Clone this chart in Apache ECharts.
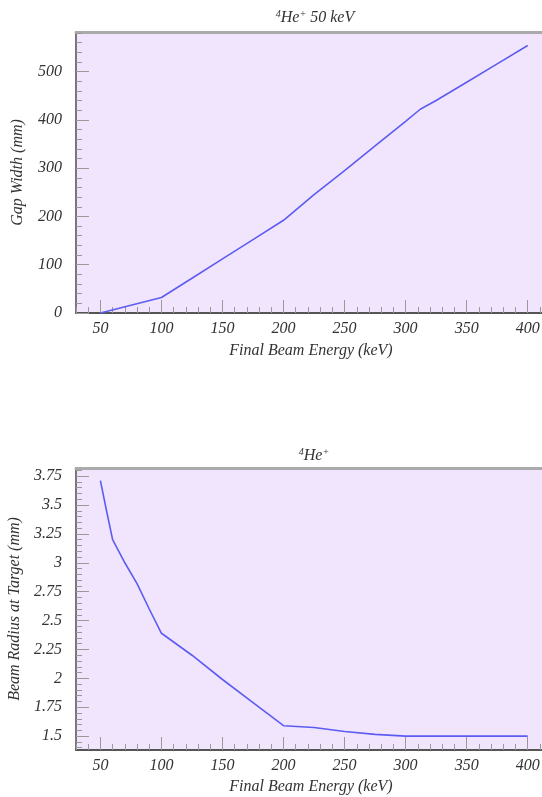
<!DOCTYPE html>
<html><head><meta charset="utf-8">
<style>html,body{margin:0;padding:0;background:#fff}#c{width:542px;height:797px}</style>
<script src="https://cdn.jsdelivr.net/npm/echarts@6/dist/echarts.min.js"></script>
</head><body><div id="c"></div>
<script>
// ---- data ----
const energyTicks = [50, 100, 150, 200, 250, 300, 350, 400];
const gapTicks = [0, 100, 200, 300, 400, 500];
const radiusTicks = [1.5, 1.75, 2, 2.25, 2.5, 2.75, 3, 3.25, 3.5, 3.75];
const gapEnergy = [50, 100, 125, 150, 175, 200, 225, 250, 275, 300, 312, 325, 350, 375, 400];
const gapWidth = [0, 32, 72, 112, 152, 192, 245, 295, 346, 397, 422, 440, 478, 516, 554];
const radiusEnergy = [50, 55, 60, 70, 80, 90, 100, 125, 150, 175, 200, 225, 250, 275, 300, 350, 400];
const beamRadius = [3.71, 3.45, 3.2, 3.0, 2.82, 2.6, 2.39, 2.2, 1.99, 1.79, 1.59, 1.575, 1.54, 1.515, 1.5, 1.5, 1.5];

function range(a, b, s, dec) { const r = []; for (let v = a; v <= b + 1e-9; v += s) r.push(+v.toFixed(dec)); return r; }
const energyMinor = range(30, 410, 10, 0);
const gapMinor = range(0, 580, 20, 0);
const radiusMinor = range(1.40, 3.80, 0.05, 2);

const FONT = { fontFamily: 'Liberation Serif', fontStyle: 'italic', fontWeight: 'normal', color: '#333', fontSize: 16 };
const tickColor = '#999';

function xAxes(gi, gap) {
  return [
    { gridIndex: gi, type: 'value', min: 30, max: 415, position: 'bottom',
      axisLine: { show: true, onZero: false, lineStyle: { color: '#555', width: 2 } },
      axisTick: { show: true, inside: true, length: 13, customValues: energyTicks, lineStyle: { color: tickColor } },
      axisLabel: Object.assign({ customValues: energyTicks, margin: 8 }, FONT),
      splitLine: { show: false },
      name: 'Final Beam Energy (keV)', nameLocation: 'middle', nameGap: gap,
      nameTextStyle: Object.assign({}, FONT) },
    { gridIndex: gi, type: 'value', min: 30, max: 415, position: 'bottom',
      axisLine: { show: false, onZero: false },
      axisTick: { show: true, inside: true, length: 6, customValues: energyMinor, lineStyle: { color: tickColor } },
      axisLabel: { show: false }, splitLine: { show: false } },
    { gridIndex: gi, type: 'value', min: 30, max: 415, position: 'top',
      axisLine: { show: true, onZero: false, lineStyle: { color: '#aaa', width: 3 } },
      axisTick: { show: false }, axisLabel: { show: false }, splitLine: { show: false } }
  ];
}
function yAxes(gi, min, max, major, minor, name, fmt) {
  return [
    { gridIndex: gi, type: 'value', min: min, max: max, position: 'left',
      axisLine: { show: true, onZero: false, lineStyle: { color: '#777', width: 2 } },
      axisTick: { show: true, inside: true, length: 13, customValues: major, lineStyle: { color: tickColor } },
      axisLabel: Object.assign({ customValues: major, margin: 14, formatter: fmt }, FONT),
      splitLine: { show: false },
      name: name, nameLocation: 'middle', nameGap: 50, nameRotate: 90,
      nameTextStyle: Object.assign({}, FONT) },
    { gridIndex: gi, type: 'value', min: min, max: max, position: 'left',
      axisLine: { show: false, onZero: false },
      axisTick: { show: true, inside: true, length: 6, customValues: minor, lineStyle: { color: tickColor } },
      axisLabel: { show: false }, splitLine: { show: false } }
  ];
}

const rich = {
  s: { fontFamily: 'Liberation Serif', fontStyle: 'italic', fontWeight: 'normal', color: '#333', fontSize: 10, verticalAlign: 'top', lineHeight: 18 },
  m: { fontFamily: 'Liberation Serif', fontStyle: 'italic', fontWeight: 'normal', color: '#333', fontSize: 16, lineHeight: 18 }
};

const chart = echarts.init(document.getElementById('c'), null, { renderer: 'canvas' });
chart.setOption({
  animation: false,
  backgroundColor: '#fff',
  title: [
    { text: '{s|4}{m|He}{s|+}{m| 50 keV}', left: 310, textAlign: 'center', top: 4, textStyle: { fontWeight: 'normal', rich: rich } },
    { text: '{s|4}{m|He}{s|+}', left: 309, textAlign: 'center', top: 442, textStyle: { fontWeight: 'normal', rich: rich } }
  ],
  grid: [
    { left: 76, right: -4, top: 32, bottom: 484, show: true, backgroundColor: '#f1e5fd', borderWidth: 0, outerBoundsMode: 'none', containLabel: false },
    { left: 76, right: -4, top: 468, bottom: 47, show: true, backgroundColor: '#f1e5fd', borderWidth: 0, outerBoundsMode: 'none', containLabel: false }
  ],
  xAxis: xAxes(0, 30).concat(xAxes(1, 29)),
  yAxis: yAxes(0, 0, 582, gapTicks, gapMinor, 'Gap Width (mm)', v => String(Math.round(v)))
    .concat(yAxes(1, 1.38, 3.82, radiusTicks, radiusMinor, 'Beam Radius at Target (mm)', v => String(+v.toFixed(2)))),
  series: [
    { type: 'line', xAxisIndex: 0, yAxisIndex: 0, showSymbol: false, z: 5,
      data: gapEnergy.map((e, i) => [e, gapWidth[i]]),
      lineStyle: { color: '#5c5cf2', width: 1.6 } },
    { type: 'line', xAxisIndex: 3, yAxisIndex: 2, showSymbol: false, z: 5,
      data: radiusEnergy.map((e, i) => [e, beamRadius[i]]),
      lineStyle: { color: '#5c5cf2', width: 1.6 } }
  ]
});
</script></body></html>
